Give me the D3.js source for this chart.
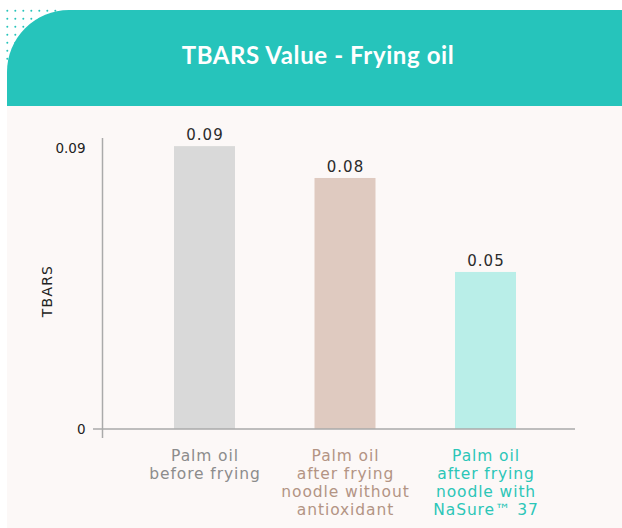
<!DOCTYPE html>
<html>
<head>
<meta charset="utf-8">
<script src="https://cdn.jsdelivr.net/npm/d3@7"></script>
<style>
  body { margin: 0; background: #fff; }
  svg { display: block; }
</style>
</head>
<body>
<svg id="chart" width="622" height="528"></svg>
<script>
// Chart data
var categories = ["before", "without", "with"];
var values = [0.0906, 0.0804, 0.0503];
var valueLabels = ["0.09", "0.08", "0.05"];
var categoryLines = [
  ["Palm oil", "before frying"],
  ["Palm oil", "after frying", "noodle without", "antioxidant"],
  ["Palm oil", "after frying", "noodle with", "NaSure\u2122 37"]
];
var barColors = ["#d9d9d9", "#dfcac0", "#b9eee8"];
var labelColors = ["#8c8c8c", "#b39484", "#2cc6b8"];
var yTicks = [0, 0.09];

var svg = d3.select("#chart");
var teal = "#26c4bb";
var fontFamily = "'DejaVu Sans', sans-serif";

// Dotted pattern behind the rounded header corner
var dots = d3.cross(d3.range(7), d3.range(7));
svg.append("g")
  .selectAll("circle")
  .data(dots)
  .enter()
  .append("circle")
  .attr("cx", d => 7.3 + d[0] * 8)
  .attr("cy", d => 10.7 + d[1] * 8)
  .attr("r", 1)
  .attr("fill", teal);

// Header band with rounded top-left corner
var r = 62;
svg.append("path")
  .attr("d", `M7,106 V${10 + r} A${r},${r} 0 0 1 ${7 + r},10 H622 V106 Z`)
  .attr("fill", teal);

svg.append("text")
  .attr("x", 318)
  .attr("y", 64)
  .attr("text-anchor", "middle")
  .attr("fill", "#fff")
  .style("font-family", "Lato, sans-serif")
  .style("font-weight", "bold")
  .style("font-size", "24px")
  .style("letter-spacing", "0.6px")
  .text("TBARS Value - Frying oil");

// Chart panel
svg.append("rect")
  .attr("x", 7)
  .attr("y", 106)
  .attr("width", 615)
  .attr("height", 422)
  .attr("fill", "#fcf8f7");

// Scales
var x = d3.scalePoint().domain(categories).range([204.5, 485.5]);
var barWidth = 61;
var y = d3.scaleLinear().domain([0, 0.09]).range([429, 148]);

// Bars
var g = svg.append("g");
g.selectAll("rect.bar")
  .data(values)
  .enter()
  .append("rect")
  .attr("class", "bar")
  .attr("x", (d, i) => x(categories[i]) - barWidth / 2)
  .attr("y", d => y(d))
  .attr("width", barWidth)
  .attr("height", d => y(0) - y(d))
  .attr("fill", (d, i) => barColors[i]);

// Value labels
g.selectAll("text.value")
  .data(values)
  .enter()
  .append("text")
  .attr("class", "value")
  .attr("x", (d, i) => x(categories[i]) + 0.5)
  .attr("y", d => y(d) - 6)
  .attr("text-anchor", "middle")
  .attr("fill", "#2b2b2b")
  .style("font-family", fontFamily)
  .style("font-size", "15px")
  .style("letter-spacing", "1px")
  .text((d, i) => valueLabels[i]);

// Y axis
var yAxis = d3.axisLeft(y)
  .tickValues(yTicks)
  .tickSize(0)
  .tickPadding(17)
  .tickFormat(d3.format(".2~f"));
var yg = svg.append("g")
  .attr("transform", "translate(102.5,0)")
  .call(yAxis);
yg.select(".domain").remove();
yg.selectAll("text")
  .attr("fill", "#222")
  .style("font-family", fontFamily)
  .style("font-size", "13.5px");

// Axis lines
svg.append("line")
  .attr("x1", 102.5).attr("x2", 102.5)
  .attr("y1", y(0.09) - 10).attr("y2", y(0) + 9)
  .attr("stroke", "#aaa").attr("stroke-width", 1.5);
svg.append("line")
  .attr("x1", 93).attr("x2", 575)
  .attr("y1", y(0)).attr("y2", y(0))
  .attr("stroke", "#aaa").attr("stroke-width", 1.5);

// Y label
svg.append("text")
  .attr("transform", "translate(52,291) rotate(-90)")
  .attr("text-anchor", "middle")
  .attr("fill", "#222")
  .style("font-family", fontFamily)
  .style("font-size", "14px")
  .style("letter-spacing", "1.2px")
  .text("TBARS");

// Category labels
var cats = svg.append("g")
  .selectAll("text")
  .data(categoryLines)
  .enter()
  .append("text")
  .attr("text-anchor", "middle")
  .attr("fill", (d, i) => labelColors[i])
  .style("font-family", fontFamily)
  .style("font-size", "15.5px")
  .style("letter-spacing", "0.9px");
cats.selectAll("tspan")
  .data((d, i) => d.map(t => ({ t: t, i: i })))
  .enter()
  .append("tspan")
  .attr("x", d => x(categories[d.i]) + 0.5)
  .attr("y", (d, j) => 461 + j * 18)
  .text(d => d.t);
</script>
</body>
</html>
